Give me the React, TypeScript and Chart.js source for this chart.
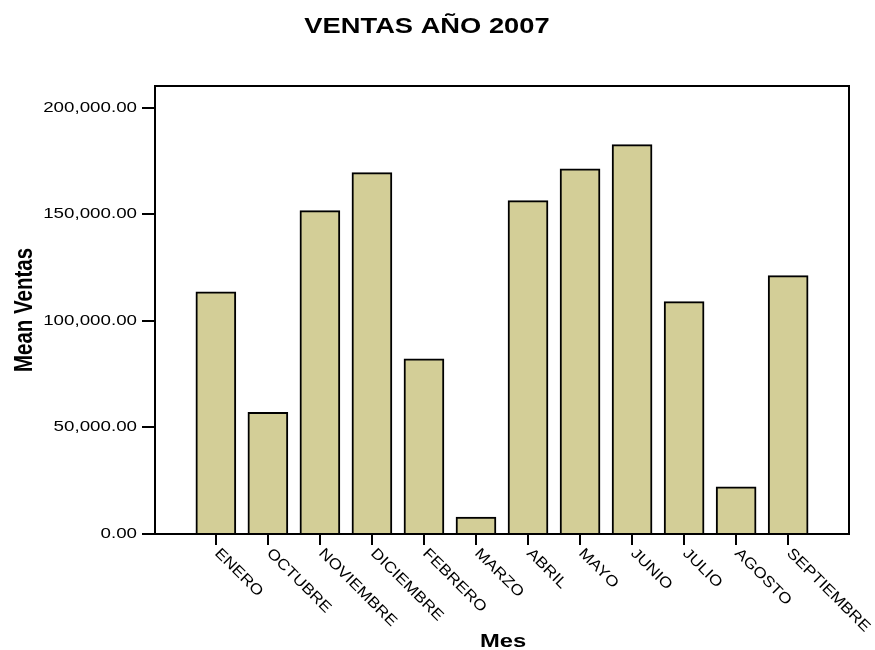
import React, { useEffect, useRef } from "react";
import { Chart, registerables } from "chart.js";

Chart.register(...registerables);

const TITLE = "VENTAS AÑO 2007";
const X_TITLE = "Mes";
const Y_TITLE = "Mean Ventas";
const MONTHS = [
  "ENERO",
  "OCTUBRE",
  "NOVIEMBRE",
  "DICIEMBRE",
  "FEBRERO",
  "MARZO",
  "ABRIL",
  "MAYO",
  "JUNIO",
  "JULIO",
  "AGOSTO",
  "SEPTIEMBRE",
];
const MEAN_VENTAS = [
  113700, 57100, 151800, 169600, 82200, 8000, 156500, 171400, 182800, 109100,
  22200, 121300,
];
const Y_TICKS = [0, 50000, 100000, 150000, 200000];
const Y_MAX = 210300;
const CAT_PAD = 1.17;

const FONT = '"Liberation Sans", Arial, sans-serif';
const BAR_FILL = "#D3CE97";

function fmt(v: number) {
  return v.toLocaleString("en-US", {
    minimumFractionDigits: 2,
    maximumFractionDigits: 2,
  });
}

function drawText(
  ctx: CanvasRenderingContext2D,
  text: string,
  x: number,
  y: number,
  font: string,
  align: CanvasTextAlign,
  baseline: CanvasTextBaseline,
  stretchX: number,
  rotation: number,
  stretchAlongText: number
) {
  ctx.save();
  ctx.translate(x, y);
  ctx.scale(stretchX, 1);
  ctx.rotate(rotation);
  ctx.scale(stretchAlongText, 1);
  ctx.font = font;
  ctx.textAlign = align;
  ctx.textBaseline = baseline;
  ctx.fillStyle = "#000";
  ctx.fillText(text, 0, 0);
  ctx.restore();
}

const decorPlugin = {
  id: "decor",
  afterDatasetsDraw(chart: any) {
    const { ctx, chartArea, scales } = chart;
    const { left, top, right, bottom } = chartArea;
    const x = scales.x;
    const y = scales.y;
    ctx.save();
    ctx.strokeStyle = "#000";
    ctx.lineWidth = 2;
    ctx.strokeRect(left, top, right - left, bottom - top);

    // y ticks
    Y_TICKS.forEach((v) => {
      const py = Math.round(y.getPixelForValue(v));
      ctx.beginPath();
      ctx.moveTo(left - 13, py);
      ctx.lineTo(left, py);
      ctx.stroke();
      drawText(ctx, fmt(v), left - 18, py, `15px ${FONT}`, "right", "middle", 1.25, 0, 1);
    });

    // x ticks
    MONTHS.forEach((m, i) => {
      const px = Math.round(x.getPixelForValue(i));
      ctx.beginPath();
      ctx.moveTo(px, bottom);
      ctx.lineTo(px, bottom + 11);
      ctx.stroke();
      drawText(ctx, m, px + 1, bottom + 17, `15px ${FONT}`, "left", "middle", 1, Math.PI / 4, 1.15);
    });

    // titles
    drawText(ctx, TITLE, 427, 33, `bold 21.5px ${FONT}`, "center", "alphabetic", 1.27, 0, 1);
    drawText(ctx, X_TITLE, 503, 647, `bold 19px ${FONT}`, "center", "alphabetic", 1.25, 0, 1);
    drawText(ctx, Y_TITLE, 32, (top + bottom) / 2 + 0, `bold 20.5px ${FONT}`, "center", "alphabetic", 1.25, -Math.PI / 2, 1);
    ctx.restore();
  },
};

export default function App() {
  const ref = useRef<HTMLCanvasElement | null>(null);
  useEffect(() => {
    if (!ref.current) return;
    const chart = new Chart(ref.current, {
      type: "bar",
      data: {
        datasets: [
          {
            label: Y_TITLE,
            data: MEAN_VENTAS.map((v, i) => ({ x: i, y: v })),
            backgroundColor: BAR_FILL,
            borderColor: "#000",
            borderWidth: 2,
            borderSkipped: "start",
            barThickness: 40,
          },
        ],
      },
      options: {
        responsive: false,
        animation: false,
        layout: { padding: { left: 155, top: 86, right: 26, bottom: 116 } },
        plugins: {
          legend: { display: false },
          tooltip: { enabled: false },
          title: { display: false },
        },
        scales: {
          x: {
            type: "linear",
            display: false,
            offset: false,
            min: -CAT_PAD,
            max: MONTHS.length - 1 + CAT_PAD,
          },
          y: {
            type: "linear",
            display: false,
            min: 0,
            max: Y_MAX,
          },
        },
      },
      plugins: [decorPlugin],
    });
    return () => chart.destroy();
  }, []);
  return (
    <div style={{ position: "absolute", left: 0, top: 0, width: 875, height: 650, background: "#fff" }}>
      <canvas ref={ref} width={875} height={650} style={{ display: "block" }} />
    </div>
  );
}
